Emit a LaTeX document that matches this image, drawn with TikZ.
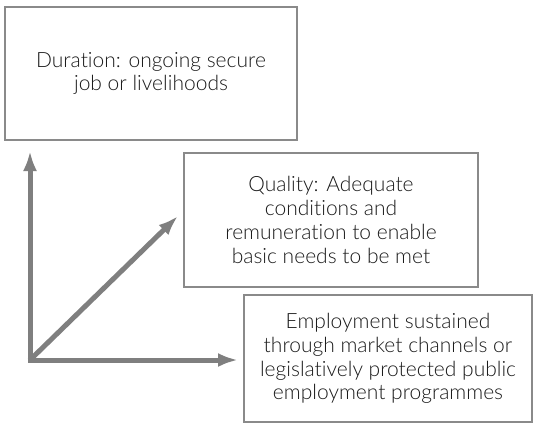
\documentclass[tikz,border=0pt]{standalone}
\usepackage{fontspec}
\setmainfont[Ligatures=NoCommon]{Lato Light}
\usetikzlibrary{arrows.meta}
\definecolor{axisgray}{HTML}{7F7F7F}
\definecolor{boxgray}{HTML}{8A8A8A}
\definecolor{txt}{HTML}{1A1A1A}
\tikzset{
  infobox/.style={draw=boxgray, line width=2pt, text=txt, align=center,
    font=\fontsize{21}{23.8}\selectfont, inner sep=0pt},
  axisarrow/.style={draw=axisgray, line width=5pt,
    -{Latex[length=20pt,width=14pt]}},
}
\begin{document}
\begin{tikzpicture}[x=1pt,y=-1pt]
\useasboundingbox (0,0) rectangle (534,431);
\node[infobox, minimum width=292pt, minimum height=133pt] (dur) at (151,73.5)
  {Duration: ongoing secure\\job or livelihoods};
\node[infobox, minimum width=294pt, minimum height=134pt] (qual) at (331,220)
  {Quality: Adequate\\conditions and\\remuneration to enable\\basic needs to be met};
\node[infobox, minimum width=288pt, minimum height=127pt] (emp) at (388,358.5)
  {Employment sustained\\through market channels or\\legislatively protected public\\employment programmes};
\coordinate (o) at (30,360);
\coordinate (up) at (30,151);
\coordinate (diag) at (178,216);
\coordinate (right) at (238,360);
\draw[axisarrow] ([yshift=-2.5pt]o) -- (up);
\draw[axisarrow] (o) -- (diag);
\draw[axisarrow] ([xshift=-2.5pt]o) -- (right);
\end{tikzpicture}
\end{document}
